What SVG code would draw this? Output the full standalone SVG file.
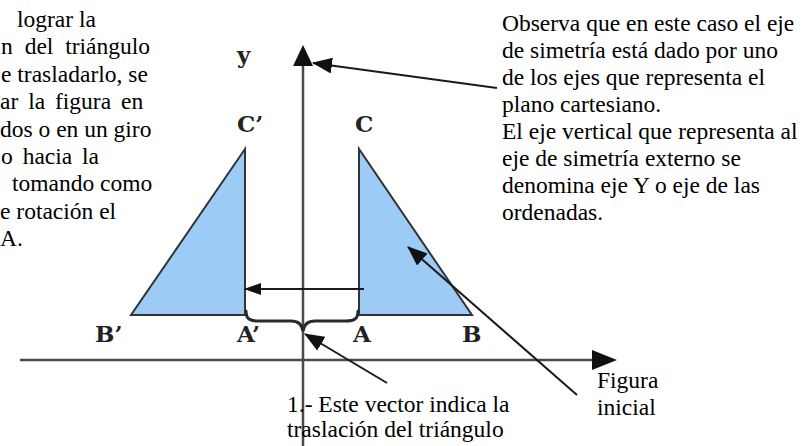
<svg xmlns="http://www.w3.org/2000/svg" width="803" height="446" viewBox="0 0 803 446">
<defs>
<style>
.t{font-family:"Liberation Serif","Times New Roman",serif;font-size:23.5px;fill:#000}
.lb{font-family:"DejaVu Serif","Liberation Serif",serif;font-weight:bold;font-size:23px;fill:#222}
.tri{fill:#9ccbf6;stroke:#333;stroke-width:2;stroke-linejoin:miter}
.ax{stroke:#4a4a4a;stroke-width:2.5;fill:none}
.ln{stroke:#1a1a1a;stroke-width:2;fill:none}
.br{stroke:#2a2a2a;stroke-width:3;fill:none;stroke-linecap:round}
</style>
<marker id="ahS" markerWidth="17" markerHeight="12" refX="16" refY="6" orient="auto" markerUnits="userSpaceOnUse" viewBox="0 0 17 12">
<path d="M0,0 L17,6 L0,12 Z" fill="#111"/>
</marker>
<marker id="ahL" markerWidth="20" markerHeight="16" refX="19" refY="8" orient="auto" markerUnits="userSpaceOnUse" viewBox="0 0 20 16">
<path d="M0,0 L20,8 L0,16 Z" fill="#111"/>
</marker>
</defs>
<rect width="803" height="446" fill="#fff"/>

<g id="left-text" class="t">
<text x="17" y="27">lograr la</text>
<text x="1" y="54" word-spacing="6">n del triángulo</text>
<text x="1" y="82">e trasladarlo, se</text>
<text x="0" y="109" word-spacing="4">ar la figura en</text>
<text x="0" y="137">dos o en un giro</text>
<text x="1" y="164" word-spacing="4">o hacia la</text>
<text x="12" y="191">tomando como</text>
<text x="0" y="219">e rotación el</text>
<text x="0" y="246">A.</text>
</g>

<g id="right-text" class="t">
<text x="502" y="31">Observa que en este caso el eje</text>
<text x="502" y="58">de simetría está dado por uno</text>
<text x="502" y="85">de los ejes que representa el</text>
<text x="502" y="112">plano cartesiano.</text>
<text x="502" y="139">El eje vertical que representa al</text>
<text x="502" y="166">eje de simetría externo se</text>
<text x="502" y="193">denomina eje Y o eje de las</text>
<text x="502" y="220">ordenadas.</text>
</g>

<g id="triangle-image">
<polygon class="tri" points="245,149 131,315 245,315"/>
<text class="lb" x="237" y="132">C’</text>
<text class="lb" x="95" y="342">B’</text>
<text class="lb" x="237" y="342">A’</text>
</g>

<g id="triangle-initial">
<polygon class="tri" points="359,149 359,315 472,315"/>
<text class="lb" x="355" y="132">C</text>
<text class="lb" x="353" y="342">A</text>
<text class="lb" x="462" y="342">B</text>
</g>

<g id="axes">
<line class="ax" x1="303" y1="62" x2="303" y2="446"/>
<polygon points="303,45 293,66 313,66" fill="#111"/>
<text class="lb" x="237" y="63">y</text>
<line class="ax" x1="20" y1="360" x2="595" y2="360"/>
<polygon points="617,360 592,350 592,370" fill="#111"/>
</g>

<g id="label-vector" class="t">
<text x="287" y="412">1.- Este vector indica la</text>
<text x="287" y="437">traslación del triángulo</text>
</g>

<g id="label-figura" class="t">
<text x="597" y="388">Figura</text>
<text x="597" y="415">inicial</text>
</g>

<g id="connectors">
<line class="ln" x1="364" y1="289" x2="245" y2="289" marker-end="url(#ahS)" stroke-width="1.8"/>
<path class="br" d="M246,311 C246,319 250,321 258,321 L291,321 C298,321 302,324 303,331 C304,324 308,321 315,321 L346,321 C354,321 358,319 358,311"/>
<line class="ln" x1="387" y1="383" x2="305" y2="334" marker-end="url(#ahL)"/>
<line class="ln" x1="577" y1="395" x2="408" y2="247" marker-end="url(#ahL)"/>
<line class="ln" x1="497" y1="88" x2="313" y2="63" marker-end="url(#ahL)"/>
</g>
</svg>
